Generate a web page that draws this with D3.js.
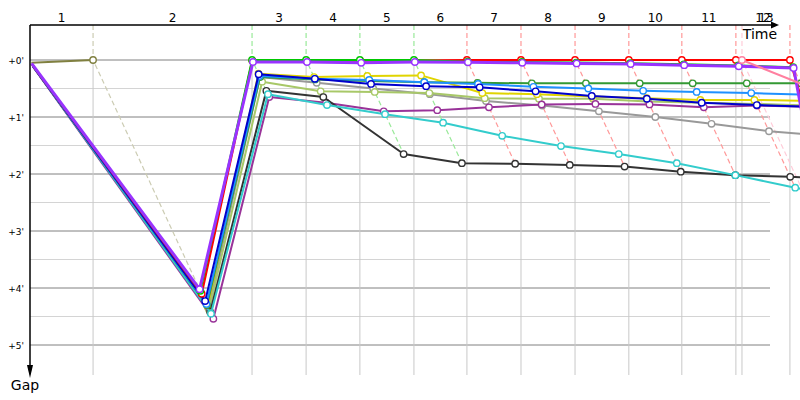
<!DOCTYPE html>
<html><head><meta charset="utf-8">
<script src="https://cdn.jsdelivr.net/npm/d3@7"></script>
<style>
body{margin:0;background:#fff}
svg{display:block;font-family:"DejaVu Sans",Verdana,sans-serif}
</style>
</head><body>
<svg id="chart" width="800" height="400"></svg>
<script>
// Leader crossing time (minutes from start) for each lap index 0..14
const lapTimes = [0, 2.38, 8.38, 10.42, 12.45, 14.49, 16.49, 18.53, 20.57, 22.60, 24.60, 26.64, 28.68, 26.87, 28.91];
const lapLabels = ["1","2","3","4","5","6","7","8","9","10","11","12","13"];
const gapTicks = [0, 1, 2, 3, 4, 5];
const gapTickLabels = ["+0'", "+1'", "+2'", "+3'", "+4'", "+5'"];
const halfTicks = [0.5, 1.5, 2.5, 3.5, 4.5];

// Gap to leader (minutes) per lap index (0 = start)
const gapsOlive      = [0.05, 0];
const gapsGrey       = [0.10, 4.35, 0.30, 0.40, 0.50, 0.60, 0.72, 0.80, 0.90, 1.00, 1.12, 1.25, 1.33];
const gapsYellowGreen= [0.10, 4.38, 0.38, 0.55, 0.56, 0.58, 0.67, 0.68, 0.68, 0.73, 0.75, 0.77, 0.80];
const gapsYellow     = [0.10, 4.32, 0.24, 0.30, 0.28, 0.27, 0.58, 0.60, 0.64, 0.67, 0.70, 0.70, 0.72];
const gapsPurple     = [0.12, 4.54, 0.65, 0.75, 0.90, 0.88, 0.83, 0.78, 0.77, 0.78, 0.83, 0.80, 0.82];
const gapsBlack      = [0.10, 4.42, 0.54, 0.65, 1.65, 1.81, 1.82, 1.84, 1.87, 1.96, 2.02, 2.05, 2.08];
const gapsCyan       = [0.10, 4.45, 0.60, 0.79, 0.95, 1.10, 1.33, 1.51, 1.65, 1.81, 2.02, 2.24, 2.45];
const gapsDarkGreen  = [0.10, 4.30, 0.30, 0.34, 0.37, 0.39, 0.40, 0.41, 0.41, 0.41, 0.41, 0.41, 0.41];
const gapsLightBlue  = [0.10, 4.28, 0.28, 0.33, 0.35, 0.39, 0.42, 0.47, 0.50, 0.54, 0.56, 0.58, 0.61];
const gapsNavy       = [0.10, 4.23, 0.25, 0.33, 0.42, 0.46, 0.48, 0.55, 0.63, 0.68, 0.75, 0.79, 0.82];
const gapsRed        = [0.08, 4.10, 0.01, 0.01, 0.01, 0.01, 0, 0, 0, 0, 0, 0, 0, 4.94];
const gapsGreen      = [0.07, 4.05, 0, 0, 0, 0, 0.03, 0.035, 0.045, 0.055, 0.075, 0.095, 0.125];
const gapsViolet     = [0.06, 4.02, 0.035, 0.035, 0.05, 0.035, 0.04, 0.05, 0.06, 0.07, 0.09, 0.11, 0.14, 3.14];
const gapsPink       = [null, null, null, null, null, null, null, null, null, null, null, null, null, 0, 0.47];

const seriesColors = ["#808040","#999999","#a8c868","#e0d400","#993399","#333333","#33cccc",
                      "#339933","#1e90ff","#0000cc","#ff0000","#00c800","#9933ff","#ff80a0"];
const seriesWidths = [2,2,2,2,2,2,2,2,2,2,2.2,2,3,2];
const seriesGaps = [gapsOlive,gapsGrey,gapsYellowGreen,gapsYellow,gapsPurple,gapsBlack,gapsCyan,
                    gapsDarkGreen,gapsLightBlue,gapsNavy,gapsRed,gapsGreen,gapsViolet,gapsPink];

const svg = d3.select("#chart");
const x = d3.scaleLinear().domain([0, 29.06]).range([30, 800]);
const y = d3.scaleLinear().domain([0, 5]).range([60, 345]);
const plotLeft = 30, plotTop = 25, gridRight = 770, plotBottom = 375;

const series = seriesGaps.map((g, i) => ({
  color: seriesColors[i], width: seriesWidths[i],
  pts: g.map((v, lap) => v == null ? null : {lap, gap: v, px: x(lapTimes[lap] + v), py: y(v)}).filter(d => d)
}));

// horizontal grid
svg.append("g").selectAll("line").data(halfTicks).join("line")
  .attr("x1", plotLeft).attr("x2", gridRight).attr("y1", d => y(d)).attr("y2", d => y(d))
  .attr("stroke", "#d4d4d4").attr("stroke-width", 1);
svg.append("g").selectAll("line").data(gapTicks).join("line")
  .attr("x1", plotLeft).attr("x2", gridRight).attr("y1", d => y(d)).attr("y2", d => y(d))
  .attr("stroke", "#808080").attr("stroke-width", 1);

// vertical grid at leader crossings
const gridLaps = d3.range(1, 14);
svg.append("g").selectAll("line").data(gridLaps).join("line")
  .attr("x1", d => x(lapTimes[d])).attr("x2", d => x(lapTimes[d]))
  .attr("y1", y(0)).attr("y2", plotBottom)
  .attr("stroke", "#c8c8c8").attr("stroke-width", 1);

// lap lines (dashed) joining all cars' crossings for the same lap
const lapLines = gridLaps.map(lap => {
  const pts = [];
  series.forEach(s => s.pts.forEach(p => { if (p.lap === lap) pts.push({p, color: s.color}); }));
  pts.sort((a, b) => a.p.gap - b.p.gap);
  return {lap, pts};
});
const lineGen = d3.line().x(d => d[0]).y(d => d[1]);
svg.append("g").selectAll("path").data(lapLines).join("path")
  .attr("d", d => {
    const lx = x(lapTimes[d.lap]);
    return lineGen([[lx, plotTop], ...d.pts.map(q => [q.p.px, q.p.py])]);
  })
  .attr("fill", "none")
  .attr("stroke", d => d3.interpolateRgb(d.pts[0].color, "#ffffff")(0.6))
  .attr("stroke-width", 1.2)
  .attr("stroke-dasharray", "5,3");

// series
const sg = svg.append("g").selectAll("g").data(series).join("g");
sg.append("path")
  .attr("d", s => lineGen(s.pts.map(p => [p.px, p.py])))
  .attr("fill", "none").attr("stroke", s => s.color).attr("stroke-width", s => s.width)
  .attr("stroke-linejoin", "round");
sg.selectAll("circle").data(s => s.pts.filter(p => p.lap > 0).map(p => ({p, c: s.color}))).join("circle")
  .attr("cx", d => d.p.px).attr("cy", d => d.p.py).attr("r", 3.2)
  .attr("fill", "#fff").attr("stroke", d => d.c).attr("stroke-width", 1.4);

// axes
svg.append("line").attr("x1", plotLeft).attr("x2", 771).attr("y1", plotTop).attr("y2", plotTop)
  .attr("stroke", "#000").attr("stroke-width", 1.5);
svg.append("path").attr("d", `M${771},${plotTop-3.5}L${779},${plotTop}L${771},${plotTop+3.5}Z`).attr("fill", "#000");
svg.append("line").attr("x1", plotLeft).attr("x2", plotLeft).attr("y1", plotTop).attr("y2", 366)
  .attr("stroke", "#000").attr("stroke-width", 1.5);
svg.append("path").attr("d", `M${plotLeft-3},${365}L${plotLeft},${378}L${plotLeft+3},${365}Z`).attr("fill", "#000");

svg.append("text").attr("x", 760).attr("y", 39).attr("text-anchor", "middle")
  .attr("font-size", 14).text("Time");
svg.append("text").attr("x", 25).attr("y", 390).attr("text-anchor", "middle")
  .attr("font-size", 14).text("Gap");

// lap labels between consecutive leader crossings
svg.append("g").selectAll("text").data(lapLabels).join("text")
  .attr("x", (d, i) => x((lapTimes[i] + lapTimes[i + 1]) / 2))
  .attr("y", 22).attr("text-anchor", "middle").attr("font-size", 12).text(d => d);

// gap tick labels
svg.append("g").selectAll("text").data(gapTicks).join("text")
  .attr("x", 24).attr("y", d => y(d) + 3.5).attr("text-anchor", "end")
  .attr("font-size", 9).text((d, i) => gapTickLabels[i]);
</script>
</body></html>
